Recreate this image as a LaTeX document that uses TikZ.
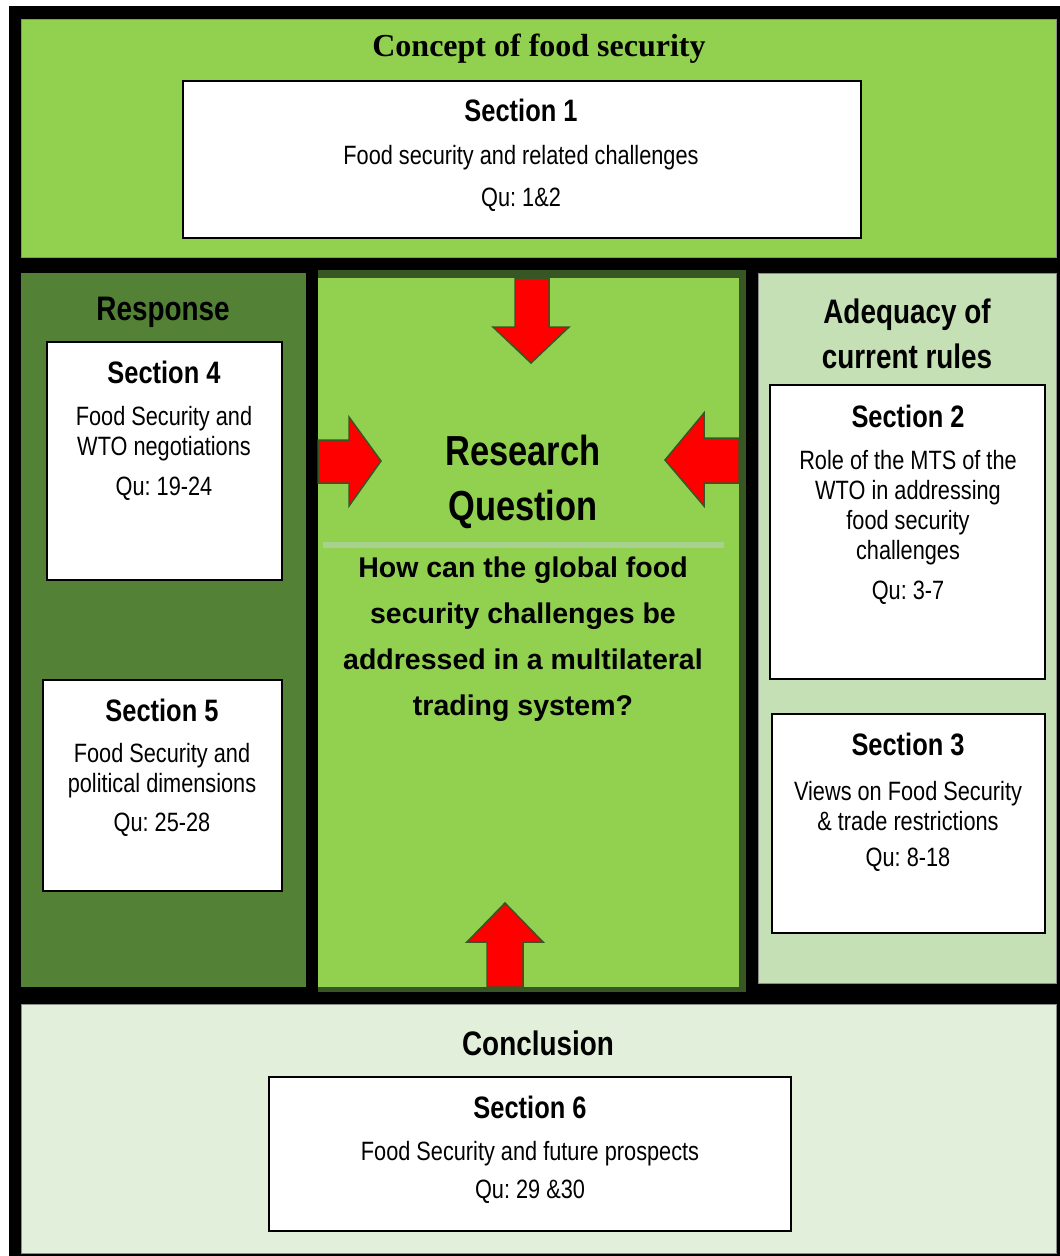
\documentclass[tikz,border=0pt]{standalone}
\usepackage{fontspec}
\newfontfamily\narrowsf{Liberation Sans}[FakeStretch=0.82]
\newfontfamily\plainsf{Liberation Sans}
\newfontfamily\timesbf{Liberation Serif}
\usetikzlibrary{positioning}
\definecolor{fsgreen}{HTML}{92D050}
\definecolor{fsdark}{HTML}{538135}
\definecolor{fsdeep}{HTML}{375623}
\definecolor{fspale}{HTML}{C5E0B4}
\definecolor{fslight}{HTML}{E2EFDA}
\definecolor{fsrule}{HTML}{A9D18E}
\frenchspacing

\begin{document}
\begin{tikzpicture}[
x=1pt,y=-1pt,
panel/.style={draw=black!45,line width=0.6pt},
secbox/.style={draw,fill=white,line width=1.5pt,anchor=north west,
inner sep=0pt,outer sep=0pt},
sechead/.style={inner sep=0pt,font=\narrowsf\bfseries\fontsize{31}{36}\selectfont},
sectext/.style={inner sep=0pt,align=center,
font=\narrowsf\fontsize{26.5}{30}\selectfont},
qutext/.style={inner sep=0pt,font=\narrowsf\fontsize{26.5}{30}\selectfont},
sidehead/.style={inner sep=0pt,align=center,
font=\narrowsf\bfseries\fontsize{34}{45}\selectfont},
blockarr/.style={fill=red,draw=fsdeep,line width=1.5pt,line join=miter}
]
\useasboundingbox (0,0) rectangle (1060,1256);
\fill[black] (9,6) rectangle (1060,1256);

\fill[fsgreen,panel] (21,19) rectangle (1056,257);
\fill[fsdark] (21,273) rectangle (306,987);
\fill[fsdeep] (318,270) rectangle (746,992);
\fill[fsgreen] (318,278) rectangle (739,987);
\fill[fspale,panel] (758,273) rectangle (1056,983);
\fill[fslight,panel] (21,1004) rectangle (1056,1253);

\node[font=\timesbf\bfseries\fontsize{32}{36}\selectfont,inner sep=0pt] (title) at (539,49) {Concept of food security};
\node[secbox,minimum width=678pt,minimum height=157pt] (s1) at (183,81) {};
\node[sechead] (h1) at (521,110) {Section 1};
\node[sectext] (t1) at (521,158) {Food security and related challenges};
\node[qutext] (q1) at (521,200) {Qu: 1\&2};

\node[sidehead] (resp) at (163,312) {Response};
\node[secbox,minimum width=235pt,minimum height=238pt] (s4) at (47,342) {};
\node[sechead] (h4) at (164,372) {Section 4};
\node[sectext] (t4) at (164,434) {Food Security and\\WTO negotiations};
\node[qutext] (q4) at (164,489) {Qu: 19-24};
\node[secbox,minimum width=239pt,minimum height=211pt] (s5) at (43,680) {};
\node[sechead] (h5) at (162,710) {Section 5};
\node[sectext] (t5) at (162,771) {Food Security and\\political dimensions};
\node[qutext] (q5) at (162,825) {Qu: 25-28};

\node[sidehead] (adeq) at (907,334) {Adequacy of\\current rules};
\node[secbox,minimum width=275pt,minimum height=294pt] (s2) at (770,385) {};
\node[sechead] (h2) at (908,416) {Section 2};
\node[sectext] (t2) at (908,508) {Role of the MTS of the\\WTO in addressing\\food security\\challenges};
\node[qutext] (q2) at (908,593) {Qu: 3-7};
\node[secbox,minimum width=273pt,minimum height=219pt] (s3) at (772,714) {};
\node[sechead] (h3) at (908,744) {Section 3};
\node[sectext] (t3) at (908,806) {Views on Food Security\\\& trade restrictions};
\node[qutext] (q3) at (908,860) {Qu: 8-18};

\fill[fsrule] (323,542) rectangle (724,548);
\node[inner sep=0pt,align=center,font=\narrowsf\bfseries\fontsize{42}{55}\selectfont] (rq) at (523,482) {Research\\Question};
\node[inner sep=0pt,align=center,font=\plainsf\bfseries\fontsize{28.5}{46}\selectfont] (rqtext) at (523,639) {How can the global food\\security challenges be\\addressed in a multilateral\\trading system?};

\draw[blockarr] (515,278) -- (549,278) -- (549,327) -- (569,327) -- (531,363) -- (493,327) -- (515,327) -- cycle;
\draw[blockarr] (318,440) -- (349,440) -- (349,417) -- (381,461) -- (349,506) -- (349,483) -- (318,483) -- cycle;
\draw[blockarr] (739,438) -- (704,438) -- (704,413) -- (665,460) -- (704,506) -- (704,483) -- (739,483) -- cycle;
\draw[blockarr] (487,987) -- (487,942) -- (467,942) -- (505,903) -- (543,942) -- (523,942) -- (523,987) -- cycle;

\node[sidehead] (concl) at (538,1043) {Conclusion};
\node[secbox,minimum width=522pt,minimum height=154pt] (s6) at (269,1077) {};
\node[sechead] (h6) at (530,1107) {Section 6};
\node[sectext] (t6) at (530,1154) {Food Security and future prospects};
\node[qutext] (q6) at (530,1192) {Qu: 29 \&30};
\end{tikzpicture}
\end{document}
